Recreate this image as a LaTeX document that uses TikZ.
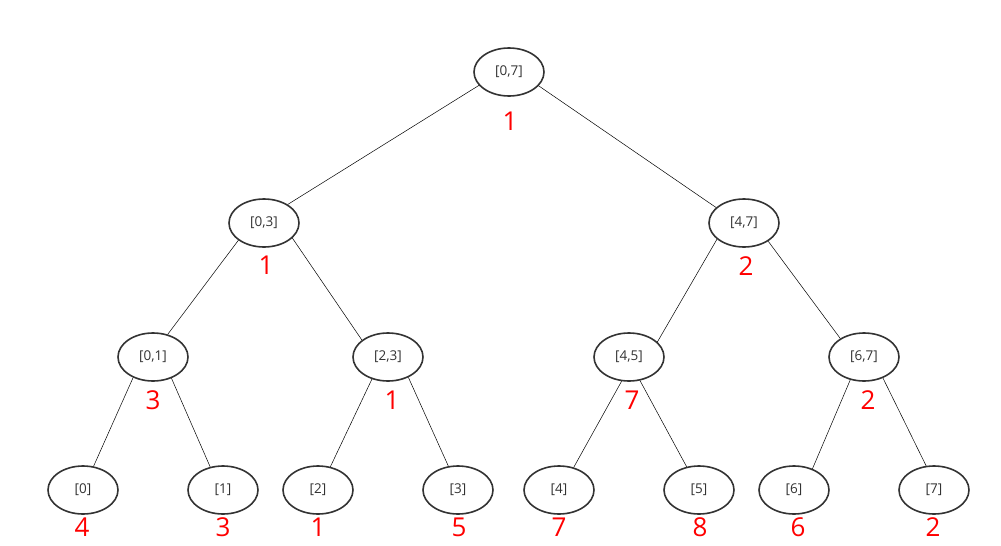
\documentclass[tikz,border=0pt]{standalone}
\usepackage{fontspec}
\setmainfont{Open Sans}
\usetikzlibrary{shapes.geometric}
\definecolor{nodegray}{HTML}{333333}
\begin{document}
\begin{tikzpicture}[x=1pt,y=-1pt,
  seg/.style={draw=nodegray,line width=1.6pt,ellipse,minimum width=70pt,minimum height=48pt,inner sep=0pt,text=nodegray,font=\fontsize{13.5}{15}\selectfont},
  val/.style={text=red,font=\fontsize{26}{28}\selectfont,inner sep=0pt},
  edge/.style={draw=black,line width=0.5pt}]
\useasboundingbox (0,0) rectangle (1001,546);
\node[seg] (n07) at (509,72) {[0,7]};
\node[seg] (n03) at (264,223) {[0,3]};
\node[seg] (n47) at (744,223) {[4,7]};
\node[seg] (n01) at (153,357) {[0,1]};
\node[seg] (n23) at (388,357) {[2,3]};
\node[seg] (n45) at (629,357) {[4,5]};
\node[seg] (n67) at (864,357) {[6,7]};
\node[seg] (n0) at (83,490) {[0]};
\node[seg] (n1) at (223,490) {[1]};
\node[seg] (n2) at (318,490) {[2]};
\node[seg] (n3) at (458,490) {[3]};
\node[seg] (n4) at (559,490) {[4]};
\node[seg] (n5) at (699,490) {[5]};
\node[seg] (n6) at (794,490) {[6]};
\node[seg] (n7) at (934,490) {[7]};
\node[val] (v07) at (510,121) {1};
\node[val] (v03) at (266,265) {1};
\node[val] (v47) at (746,266) {2};
\node[val] (v01) at (153,400) {3};
\node[val] (v23) at (392,400) {1};
\node[val] (v45) at (632,400) {7};
\node[val] (v67) at (868,400) {2};
\node[val] (v0) at (82,527) {4};
\node[val] (v1) at (223,527) {3};
\node[val] (v2) at (318,527) {1};
\node[val] (v3) at (459,527) {5};
\node[val] (v4) at (559,527) {7};
\node[val] (v5) at (700,527) {8};
\node[val] (v6) at (798,527) {6};
\node[val] (v7) at (933,527) {2};
\draw[edge] (n07.204) -- (n03.38);
\draw[edge] (n07.335) -- (n47.151);
\draw[edge] (n03.214) -- (n01.57);
\draw[edge] (n03.332) -- (n23.147);
\draw[edge] (n47.211) -- (n45.28);
\draw[edge] (n47.323) -- (n67.142);
\draw[edge] (n01.226) -- (n0.66);
\draw[edge] (n01.311) -- (n1.119);
\draw[edge] (n23.234) -- (n2.62);
\draw[edge] (n23.315) -- (n3.112);
\draw[edge] (n45.253) -- (n4.57);
\draw[edge] (n45.295) -- (n5.118);
\draw[edge] (n67.239) -- (n6.49);
\draw[edge] (n67.312) -- (n7.108);
\end{tikzpicture}
\end{document}
